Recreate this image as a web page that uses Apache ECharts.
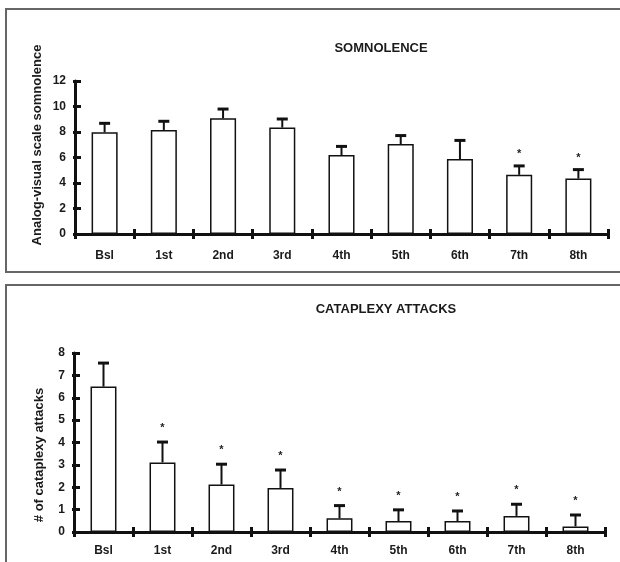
<!DOCTYPE html>
<html>
<head>
<meta charset="utf-8">
<script src="https://cdn.jsdelivr.net/npm/echarts@6/dist/echarts.min.js"></script>
<style>
html,body{margin:0;padding:0;background:#fff;}
#c{width:620px;height:562px;}
</style>
</head>
<body>
<div id="c"></div>
<script>
var categories = ['Bsl', '1st', '2nd', '3rd', '4th', '5th', '6th', '7th', '8th'];
var somnMean = [7.98, 8.16, 9.07, 8.35, 6.19, 7.05, 5.88, 4.64, 4.35];
var somnSE   = [0.70, 0.68, 0.73, 0.67, 0.68, 0.67, 1.46, 0.70, 0.70];
var somnSig  = [0, 0, 0, 0, 0, 0, 0, 1, 1];
var cataMean = [6.50, 3.11, 2.12, 1.97, 0.61, 0.49, 0.49, 0.72, 0.25];
var cataSE   = [1.05, 0.91, 0.91, 0.80, 0.57, 0.50, 0.45, 0.52, 0.51];
var cataSig  = [0, 1, 1, 1, 1, 1, 1, 1, 1];
var somnTicks = [0, 2, 4, 6, 8, 10, 12];
var cataTicks = [0, 1, 2, 3, 4, 5, 6, 7, 8];

var FONT = 'Liberation Sans, Arial, sans-serif';
var chart = echarts.init(document.getElementById('c'), null, {renderer: 'canvas'});

function errData(mean, se, sig) {
  return mean.map(function (m, i) { return [i, m, m + se[i], sig[i]]; });
}
function errRender(starOff) {
  return function (params, api) {
    var x = api.value(0);
    var lo = api.coord([x, api.value(1)]);
    var hi = api.coord([x, api.value(2)]);
    var capHalf = 5.5;
    var children = [
      {type: 'line', shape: {x1: lo[0], y1: lo[1], x2: hi[0], y2: hi[1]}, style: {stroke: '#111', lineWidth: 2}},
      {type: 'line', shape: {x1: hi[0] - capHalf, y1: hi[1], x2: hi[0] + capHalf, y2: hi[1]}, style: {stroke: '#111', lineWidth: 3}}
    ];
    if (api.value(3)) {
      children.push({type: 'text', x: hi[0], y: hi[1] - starOff, style: {text: '*', fill: '#222', font: 'bold 11px ' + FONT, align: 'center', verticalAlign: 'middle'}});
    }
    return {type: 'group', children: children};
  };
}

var labelStyle = {color: '#1a1a1a', fontFamily: FONT, fontWeight: 'bold', fontSize: 12};
function xAxes(gi, margin) {
  return [
    {gridIndex: gi, type: 'category', data: categories, position: 'bottom', boundaryGap: true,
     axisLine: {lineStyle: {color: '#111', width: 3}},
     axisTick: {show: true, length: 5, lineStyle: {color: '#111', width: 3}},
     axisLabel: Object.assign({margin: margin}, labelStyle),
     splitLine: {show: false}},
    {gridIndex: gi, type: 'category', data: categories, position: 'bottom', boundaryGap: true,
     axisLine: {show: false},
     axisTick: {show: true, inside: true, length: 5, lineStyle: {color: '#111', width: 3}},
     axisLabel: {show: false}, splitLine: {show: false}}
  ];
}
function yAxes(gi, max, interval) {
  return [
    {gridIndex: gi, type: 'value', min: 0, max: max, interval: interval,
     axisLine: {show: true, lineStyle: {color: '#111', width: 3}},
     axisTick: {show: true, inside: true, length: 6, lineStyle: {color: '#111', width: 3}},
     axisLabel: Object.assign({margin: 9}, labelStyle),
     splitLine: {show: false}},
    {gridIndex: gi, type: 'value', min: 0, max: max, interval: interval, position: 'left',
     axisLine: {show: false},
     axisTick: {show: true, length: 2, lineStyle: {color: '#111', width: 3}},
     axisLabel: {show: false}, splitLine: {show: false}}
  ];
}

var option = {
  animation: false,
  backgroundColor: '#fff',
  title: [
    {text: 'SOMNOLENCE', left: 376, top: 37, textAlign: 'center',
     textStyle: {fontFamily: FONT, fontWeight: 'bold', fontSize: 13, color: '#1a1a1a'}},
    {text: 'CATAPLEXY ATTACKS', left: 381, top: 298, textAlign: 'center',
     textStyle: {fontFamily: FONT, fontWeight: 'bold', fontSize: 13, color: '#1a1a1a'}}
  ],
  grid: [
    {left: 75, top: 81, width: 533, height: 153},
    {left: 74, top: 353, width: 531, height: 179}
  ],
  xAxis: xAxes(0, 16).concat(xAxes(1, 13)),
  yAxis: yAxes(0, somnTicks[somnTicks.length - 1], somnTicks[1] - somnTicks[0])
          .concat(yAxes(1, cataTicks[cataTicks.length - 1], cataTicks[1] - cataTicks[0])),
  series: [
    {type: 'bar', xAxisIndex: 0, yAxisIndex: 0, data: somnMean, barWidth: '44%',
     itemStyle: {color: '#fff', borderColor: '#111', borderWidth: 1.5}},
    {type: 'custom', xAxisIndex: 0, yAxisIndex: 0, data: errData(somnMean, somnSE, somnSig),
     renderItem: errRender(12), z: 3},
    {type: 'bar', xAxisIndex: 2, yAxisIndex: 2, data: cataMean, barWidth: '44%',
     itemStyle: {color: '#fff', borderColor: '#111', borderWidth: 1.5}},
    {type: 'custom', xAxisIndex: 2, yAxisIndex: 2, data: errData(cataMean, cataSE, cataSig),
     renderItem: errRender(14), z: 3}
  ],
  graphic: [
    {type: 'rect', shape: {x: 6, y: 9, width: 700, height: 263}, style: {fill: null, stroke: '#666', lineWidth: 2}, z: -1},
    {type: 'rect', shape: {x: 6, y: 285, width: 700, height: 400}, style: {fill: null, stroke: '#666', lineWidth: 2}, z: -1},
    {type: 'text', x: 37, y: 145, rotation: Math.PI / 2,
     style: {text: 'Analog-visual scale somnolence', font: 'bold 13px ' + FONT, fill: '#1a1a1a', align: 'center', verticalAlign: 'middle'}},
    {type: 'text', x: 39, y: 455, rotation: Math.PI / 2,
     style: {text: '# of cataplexy attacks', font: 'bold 13px ' + FONT, fill: '#1a1a1a', align: 'center', verticalAlign: 'middle'}}
  ]
};
chart.setOption(option);
</script>
</body>
</html>
